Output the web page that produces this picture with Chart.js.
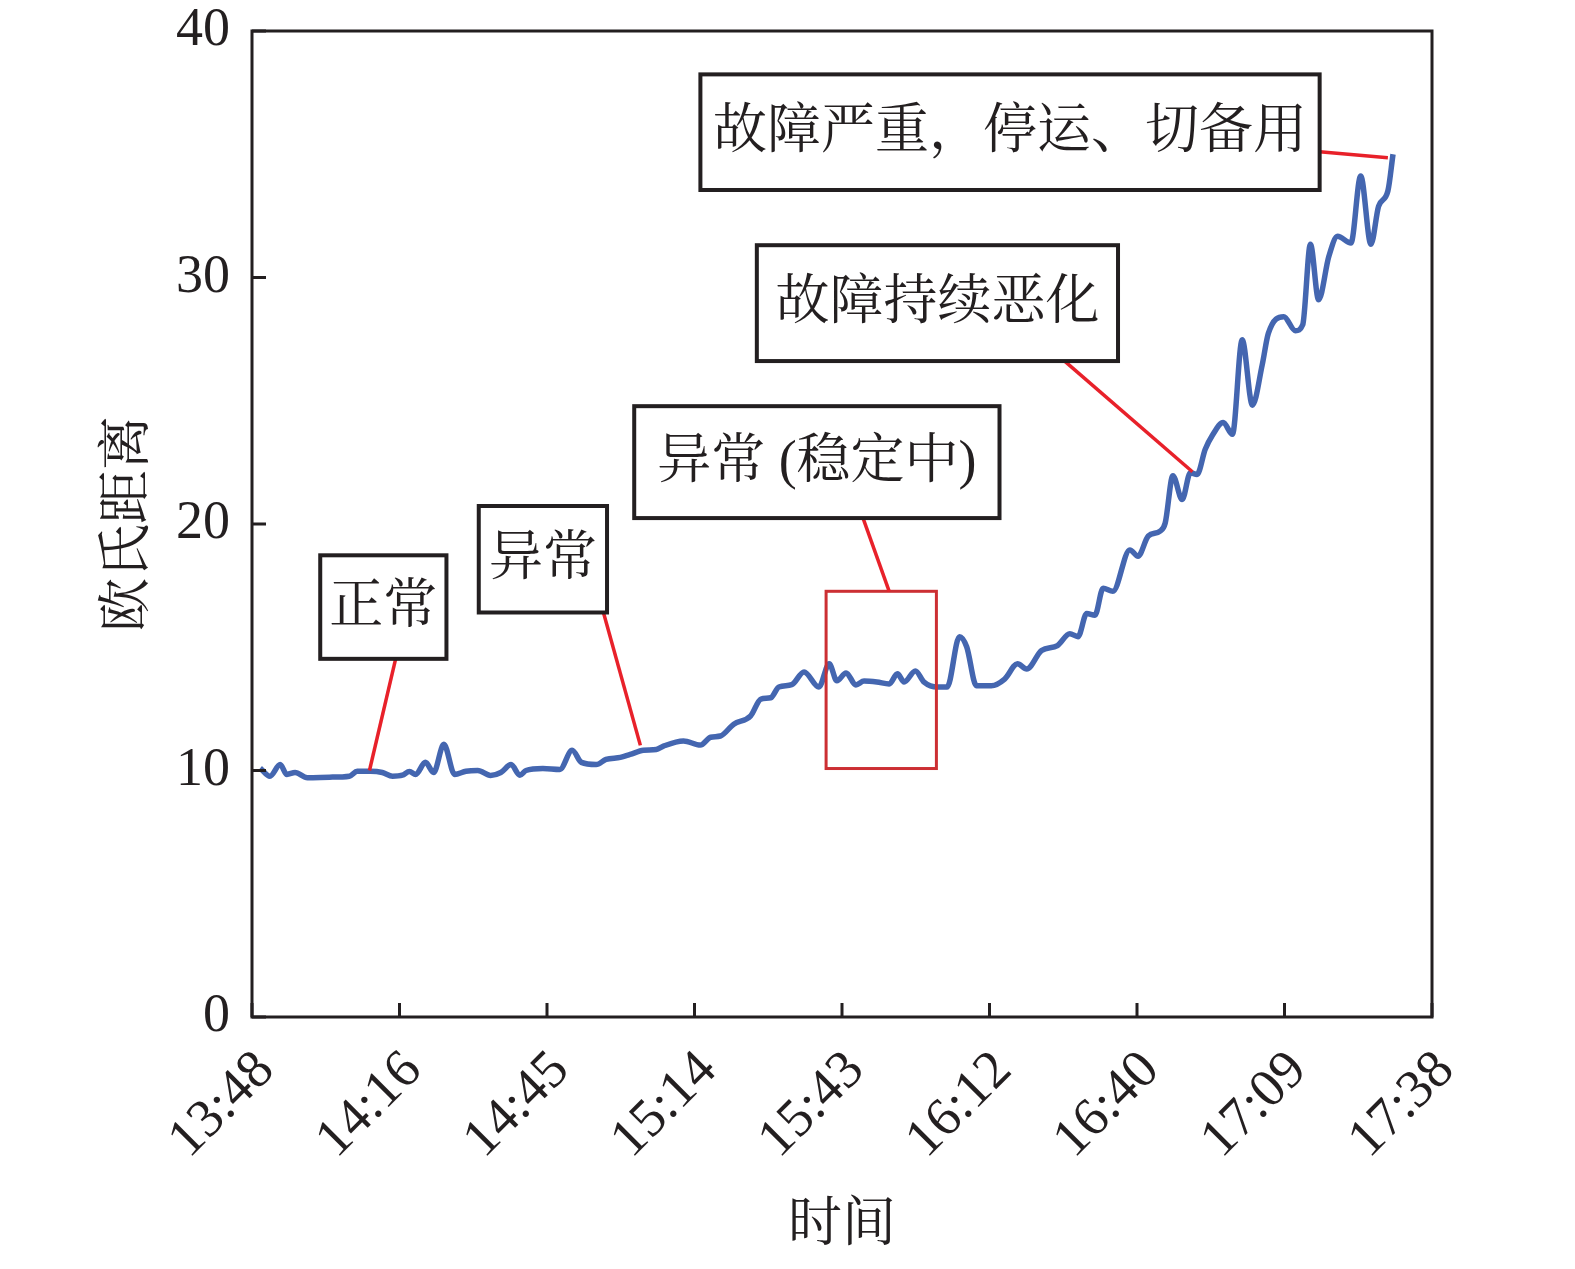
<!DOCTYPE html>
<html lang="zh">
<head>
    <meta charset="UTF-8">
    <title>欧氏距离</title>
    <style>
        html, body { margin: 0; padding: 0; background: #fff; }
        #wrap { width: 1575px; height: 1269px; }
    </style>
</head>
<body>
    <div id="wrap"><canvas id="myChart" width="1575" height="1269"></canvas></div>

    <script src="https://cdn.jsdelivr.net/npm/chart.js"></script>
    <script>
        // time in minutes after 13:48
        const timeMin = [
            1.6, 3.5, 5.5, 6.8, 8.4, 10.8, 15.1, 19.0, 20.5, 23.1,
            25.4, 27.4, 29.3, 30.7, 31.9, 33.8, 35.4, 37.4, 39.5, 41.7,
            44.0, 46.5, 48.5, 50.5, 52.2, 53.4, 56.7, 60.0, 62.4, 64.2,
            67.1, 69.0, 71.8, 73.7, 76.3, 78.8, 80.2, 84.1, 87.4, 89.4,
            91.3, 93.9, 97.2, 99.2, 101.1, 102.7, 105.2, 107.6, 110.5, 112.5,
            114.0, 115.8, 117.7, 119.3, 121.8, 124.2, 125.8, 127.1, 129.3, 131.0,
            133.6, 135.5, 137.9, 139.3, 141.2, 144.1, 146.7, 149.2, 151.0, 153.9,
            157.0, 159.4, 161.0, 162.7, 164.3, 165.9, 167.8, 171.1, 172.7, 174.7,
            177.0, 178.0, 179.5, 181.3, 182.9, 184.2, 185.8, 187.2, 189.3, 191.1,
            193.0, 195.0, 196.9, 198.1, 201.1, 203.4, 204.8, 206.3, 207.9, 209.9,
            211.6, 214.2, 216.1, 218.1, 219.6, 221.4, 222.4
        ];
        const distance = [
            10.1, 9.77, 10.24, 9.84, 9.92, 9.71, 9.73, 9.77, 9.97, 9.97,
            9.92, 9.77, 9.81, 9.96, 9.84, 10.33, 9.92, 11.06, 9.84, 9.97,
            10.0, 9.80, 9.92, 10.24, 9.81, 10.0, 10.08, 10.04, 10.82, 10.33,
            10.24, 10.45, 10.53, 10.65, 10.82, 10.85, 10.99, 11.2, 11.03, 11.35,
            11.4, 11.88, 12.22, 12.9, 12.95, 13.39, 13.48, 14.0, 13.39, 14.33,
            13.64, 13.96, 13.47, 13.63, 13.59, 13.51, 13.92, 13.59, 14.04, 13.59,
            13.39, 13.39, 15.43, 15.02, 13.44, 13.44, 13.71, 14.33, 14.12, 14.87,
            15.07, 15.55, 15.43, 16.37, 16.3, 17.39, 17.27, 18.95, 18.69, 19.51,
            19.71, 20.04, 21.96, 20.99, 22.08, 22.01, 23.03, 23.6, 24.12, 23.64,
            27.47, 24.82, 26.45, 27.73, 28.41, 27.84, 28.08, 31.35, 29.1, 30.86,
            31.67, 31.4, 34.12, 31.35, 32.9, 33.51, 35.0
        ];
        const timeLabels = ['13:48', '14:16', '14:45', '15:14', '15:43', '16:12', '16:40', '17:09', '17:38'];
        const yTicks = [0, 10, 20, 30, 40];

        // annotation boxes: [xmin, xmax, ymin, ymax] and leader line [x1, y1, x2, y2] in data units
        const notes = [
            { text: '正常', box: [13.3, 37.9, 14.53, 18.73], line: [28.0, 14.53, 22.9, 10.0] },
            { text: '异常', box: [44.2, 69.2, 16.41, 20.73], line: [68.5, 16.41, 75.7, 11.02] },
            { text: '异常 (稳定中)', box: [74.5, 145.7, 20.24, 24.78], line: [119.1, 20.24, 124.2, 17.27] },
            { text: '故障持续恶化', box: [98.4, 168.8, 26.61, 31.31], line: [158.4, 26.61, 183.3, 22.12] },
            { text: '故障严重，停运、切备用', box: [87.4, 208.1, 33.55, 38.24], line: [208.1, 35.1, 221.4, 34.86] }
        ];
        const stableRect = [111.9, 133.4, 10.08, 17.27];

        const INK = '#231f20';
        const FONT = '"Liberation Serif", "Noto Serif CJK SC", "Noto Sans CJK SC", serif';

        const points = timeMin.map(function(t, i) { return { x: t, y: distance[i] }; });

        const framePlugin = {
            id: 'frame',
            afterDatasetsDraw: function(chart) {
                const ctx = chart.ctx;
                const a = chart.chartArea;
                const xs = chart.scales.x;
                const ys = chart.scales.y;
                ctx.save();

                // inward ticks
                ctx.strokeStyle = INK;
                ctx.lineWidth = 3;
                ctx.beginPath();
                xs.ticks.forEach(function(t) {
                    const px = xs.getPixelForValue(t.value);
                    ctx.moveTo(px, a.bottom);
                    ctx.lineTo(px, a.bottom - 14);
                });
                ys.ticks.forEach(function(t) {
                    const py = ys.getPixelForValue(t.value);
                    ctx.moveTo(a.left, py);
                    ctx.lineTo(a.left + 14, py);
                });
                ctx.stroke();

                // frame
                ctx.strokeRect(a.left, a.top, a.right - a.left, a.bottom - a.top);

                // red rectangle around the stable section
                ctx.strokeStyle = '#cc2f33';
                ctx.lineWidth = 3;
                const rx0 = xs.getPixelForValue(stableRect[0]);
                const rx1 = xs.getPixelForValue(stableRect[1]);
                const ry0 = ys.getPixelForValue(stableRect[2]);
                const ry1 = ys.getPixelForValue(stableRect[3]);
                ctx.strokeRect(rx0, ry1, rx1 - rx0, ry0 - ry1);

                // text boxes and leaders
                notes.forEach(function(n) {
                    ctx.strokeStyle = '#e8212a';
                    ctx.lineWidth = 3.5;
                    ctx.beginPath();
                    ctx.moveTo(xs.getPixelForValue(n.line[0]), ys.getPixelForValue(n.line[1]));
                    ctx.lineTo(xs.getPixelForValue(n.line[2]), ys.getPixelForValue(n.line[3]));
                    ctx.stroke();

                    const bx0 = xs.getPixelForValue(n.box[0]);
                    const bx1 = xs.getPixelForValue(n.box[1]);
                    const by0 = ys.getPixelForValue(n.box[3]);
                    const by1 = ys.getPixelForValue(n.box[2]);
                    ctx.fillStyle = '#fff';
                    ctx.fillRect(bx0, by0, bx1 - bx0, by1 - by0);
                    ctx.strokeStyle = INK;
                    ctx.lineWidth = 4;
                    ctx.strokeRect(bx0, by0, bx1 - bx0, by1 - by0);

                    ctx.fillStyle = INK;
                    ctx.font = '54px ' + FONT;
                    ctx.textAlign = 'center';
                    ctx.textBaseline = 'middle';
                    ctx.fillText(n.text, (bx0 + bx1) / 2, (by0 + by1) / 2 + 2);
                });
                ctx.restore();
            }
        };

        new Chart(document.getElementById('myChart'), {
            type: 'line',
            data: {
                datasets: [{
                    label: '欧氏距离',
                    data: points,
                    borderColor: '#4466b0',
                    borderWidth: 5.5,
                    pointRadius: 0,
                    cubicInterpolationMode: 'monotone',
                    fill: false
                }]
            },
            options: {
                responsive: false,
                animation: false,
                devicePixelRatio: 1,
                layout: { padding: { top: 31, right: 143, left: 0, bottom: 0 } },
                plugins: {
                    legend: { display: false },
                    tooltip: { enabled: false }
                },
                scales: {
                    x: {
                        type: 'linear',
                        min: 0,
                        max: 230,
                        afterBuildTicks: function(scale) {
                            scale.ticks = timeLabels.map(function(l, i) { return { value: i * 230 / 8 }; });
                        },
                        afterFit: function(scale) {
                            scale.height = 252;
                            scale.paddingLeft = 0;
                            scale.paddingRight = 0;
                        },
                        grid: { display: false },
                        border: { display: false },
                        ticks: {
                            autoSkip: false,
                            maxRotation: 45,
                            minRotation: 45,
                            labelOffset: 14,
                            padding: 14,
                            color: INK,
                            font: { family: FONT, size: 54 },
                            callback: function(value, index) { return timeLabels[index]; }
                        },
                        title: {
                            display: true,
                            text: '时间',
                            color: INK,
                            font: { family: FONT, size: 54 },
                            padding: { top: 0, bottom: 10 }
                        }
                    },
                    y: {
                        min: 0,
                        max: 40,
                        afterBuildTicks: function(scale) {
                            scale.ticks = yTicks.map(function(v) { return { value: v }; });
                        },
                        afterFit: function(scale) {
                            scale.width = 252;
                            scale.paddingTop = 0;
                            scale.paddingBottom = 0;
                        },
                        grid: { display: false },
                        border: { display: false },
                        ticks: {
                            padding: 14,
                            color: INK,
                            font: { family: FONT, size: 54 }
                        },
                        title: {
                            display: true,
                            text: '欧氏距离',
                            color: INK,
                            font: { family: FONT, size: 54 },
                            padding: { top: 97, bottom: 0 }
                        }
                    }
                }
            },
            plugins: [framePlugin]
        });
    </script>
</body>
</html>
